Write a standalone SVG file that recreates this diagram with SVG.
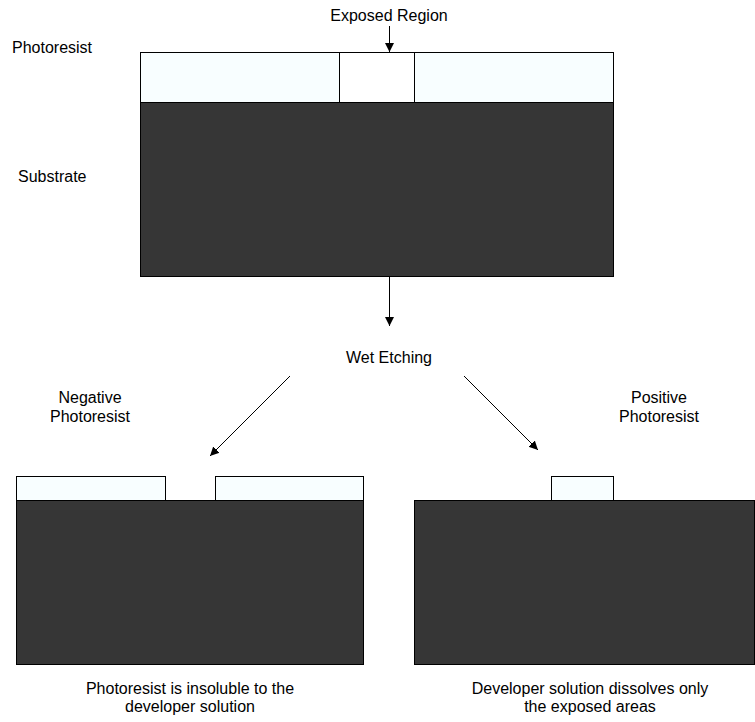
<svg xmlns="http://www.w3.org/2000/svg" width="755" height="722" viewBox="0 0 755 722">
<style>
text{font-family:"Liberation Sans",Arial,sans-serif;font-size:16px;fill:#000}
.c{text-anchor:middle}
.sub{fill:#363636;stroke:#000;stroke-width:1}
.pr{fill:#f8feff;stroke:#000;stroke-width:1}
.ln{stroke:#000;stroke-width:1;fill:none}
</style>
<defs>
<marker id="ah" markerWidth="10" markerHeight="10" refX="9" refY="5" orient="auto" markerUnits="userSpaceOnUse">
<path d="M0,0.5 L9,5 L0,9.5 Z" fill="#000"/>
</marker>
</defs>
<rect width="755" height="722" fill="#fff"/>
<g id="top-stack">
<rect class="sub" x="140.5" y="102.5" width="473" height="174"/>
<rect class="pr" x="140.5" y="52.5" width="199" height="50"/>
<rect x="339.5" y="52.5" width="75" height="50" fill="#fff" stroke="#000"/>
<rect class="pr" x="414.5" y="52.5" width="199" height="50"/>
</g>
<g id="neg-stack">
<rect class="sub" x="16.5" y="500.5" width="347" height="164"/>
<rect class="pr" x="16.5" y="476.5" width="149" height="24"/>
<rect class="pr" x="215.5" y="476.5" width="148" height="24"/>
</g>
<g id="pos-stack">
<rect class="sub" x="414.5" y="500.5" width="340" height="164"/>
<rect class="pr" x="551.5" y="476.5" width="62" height="24"/>
</g>
<g id="labels">
<text x="12" y="53">Photoresist</text>
<text x="18" y="182">Substrate</text>
<text class="c" x="389" y="21">Exposed Region</text>
<text class="c" x="389" y="363">Wet Etching</text>
<text class="c" x="90" y="403">Negative</text>
<text class="c" x="90" y="422">Photoresist</text>
<text class="c" x="659" y="403">Positive</text>
<text class="c" x="659" y="422">Photoresist</text>
<text class="c" x="190" y="694">Photoresist is insoluble to the</text>
<text class="c" x="190" y="712">developer solution</text>
<text class="c" x="590" y="694">Developer solution dissolves only</text>
<text class="c" x="590" y="712">the exposed areas</text>
</g>
<g id="connectors">
<line class="ln" x1="389.5" y1="26" x2="389.5" y2="52" marker-end="url(#ah)"/>
<line class="ln" x1="389.5" y1="277" x2="389.5" y2="326" marker-end="url(#ah)"/>
<line class="ln" x1="290" y1="376" x2="210" y2="456" marker-end="url(#ah)"/>
<line class="ln" x1="464" y1="376" x2="538" y2="450" marker-end="url(#ah)"/>
</g>
</svg>
